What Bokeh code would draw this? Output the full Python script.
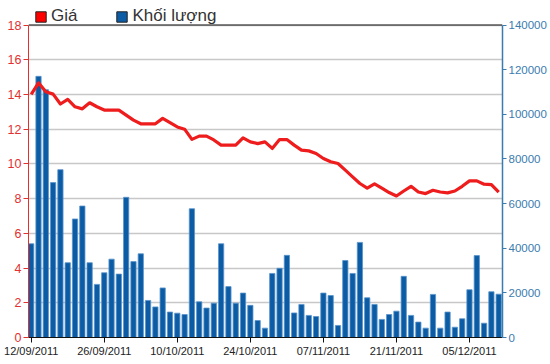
from bokeh.plotting import figure
from bokeh.models import (Range1d, LinearAxis, FixedTicker, Legend, LegendItem,
                          ColumnDataSource, BasicTickFormatter, Span)
from bokeh.embed import file_html
from bokeh.resources import INLINE

# ---- data ----
dates = [
    "12/09/2011", "13/09/2011", "14/09/2011", "15/09/2011", "16/09/2011",
    "19/09/2011", "20/09/2011", "21/09/2011", "22/09/2011", "23/09/2011",
    "26/09/2011", "27/09/2011", "28/09/2011", "29/09/2011", "30/09/2011",
    "03/10/2011", "04/10/2011", "05/10/2011", "06/10/2011", "07/10/2011",
    "10/10/2011", "11/10/2011", "12/10/2011", "13/10/2011", "14/10/2011",
    "17/10/2011", "18/10/2011", "19/10/2011", "20/10/2011", "21/10/2011",
    "24/10/2011", "25/10/2011", "26/10/2011", "27/10/2011", "28/10/2011",
    "31/10/2011", "01/11/2011", "02/11/2011", "03/11/2011", "04/11/2011",
    "07/11/2011", "08/11/2011", "09/11/2011", "10/11/2011", "11/11/2011",
    "14/11/2011", "15/11/2011", "16/11/2011", "17/11/2011", "18/11/2011",
    "21/11/2011", "22/11/2011", "23/11/2011", "24/11/2011", "25/11/2011",
    "28/11/2011", "29/11/2011", "30/11/2011", "01/12/2011", "02/12/2011",
    "05/12/2011", "06/12/2011", "07/12/2011", "08/12/2011", "09/12/2011",
]
price = [
    14.0, 14.67, 14.15, 14.02, 13.45, 13.71, 13.29, 13.17, 13.52, 13.29,
    13.1, 13.1, 13.1, 12.81, 12.52, 12.31, 12.31, 12.31, 12.62, 12.37,
    12.13, 12.0, 11.41, 11.6, 11.6, 11.38, 11.08, 11.08, 11.08, 11.5,
    11.27, 11.17, 11.27, 10.89, 11.4, 11.4, 11.08, 10.79, 10.75, 10.6,
    10.31, 10.12, 10.02, 9.64, 9.25, 8.87, 8.6, 8.85, 8.6, 8.35,
    8.15, 8.44, 8.71, 8.38, 8.29, 8.48, 8.38, 8.33, 8.44, 8.71,
    9.02, 9.02, 8.83, 8.81, 8.38,
]
volume = [
    42000, 117000, 111000, 69400, 75200, 33500, 53100, 58900, 33500, 23800,
    29000, 35100, 28400, 62800, 34000, 37500, 16600, 13700, 22200, 11400,
    10900, 10300, 57700, 16000, 13200, 15400, 42000, 22800, 15400, 19900,
    14400, 7600, 4200, 28700, 31000, 36800, 11000, 14800, 9900, 9400,
    19900, 18800, 5400, 34500, 28700, 42600, 17800, 14800, 8100, 10300,
    11800, 27400, 9900, 6900, 4200, 19300, 4200, 11400, 4600, 8400,
    21400, 36700, 6400, 20500, 19400,
]
price_ticks = [0, 2, 4, 6, 8, 10, 12, 14, 16, 18]
volume_ticks = [0, 20000, 40000, 60000, 80000, 100000, 120000, 140000]
date_tick_idx = [0, 10, 20, 30, 40, 50, 60]
series_names = ["Giá", "Khối lượng"]

RED = "#ee1c1c"
AXRED = "#e3302f"
BLUE = "#0b5ca5"
AXBLUE = "#3a7cb0"
FONT = "Liberation Sans"
NAN = float("nan")

PMAX = price_ticks[-1]
VMAX = volume_ticks[-1]
# frame runs to the top of the canvas; the axes stop at PMAX / VMAX
FRAME_H = 337.0
AXIS_H = 312.5
ext = FRAME_H / AXIS_H

src = ColumnDataSource(dict(x=list(range(len(dates))), price=price, vol=volume, date=dates))

p = figure(width=550, height=364, output_backend="svg", toolbar_location=None,
           x_range=Range1d(-0.37, 64.52), y_range=Range1d(0, PMAX * ext),
           min_border_left=28, min_border_right=48, min_border_top=0,
           min_border_bottom=27, background_fill_color="white",
           border_fill_color="white")
p.extra_y_ranges = {"vol": Range1d(0, VMAX * ext)}

# bars
bars = p.vbar(x="x", top="vol", width=0.72, y_range_name="vol", source=src,
              fill_color=BLUE, line_color="#5a94cc", line_width=0.8)
# price line
ln = p.line(x="x", y="price", source=src, line_color=RED, line_width=3.2,
            line_join="round")

# top border line of the chart area
p.add_layout(Span(location=PMAX, dimension="width", line_color="#111111", line_width=1))

# legend swatches (no visible data; only used for the legend squares)
d1 = p.vbar(x=[NAN], top=[NAN], width=0.5, fill_color="#ff0000",
            line_color="#222222", line_width=1)
d2 = p.vbar(x=[NAN], top=[NAN], width=0.5, fill_color=BLUE,
            line_color="#222222", line_width=1)
legend = Legend(items=[LegendItem(label=series_names[0], renderers=[d1]),
                       LegendItem(label=series_names[1], renderers=[d2])],
                orientation="horizontal", location="top_left",
                glyph_width=13, glyph_height=13, label_standoff=4, spacing=38,
                padding=0, margin=6, background_fill_alpha=0,
                border_line_alpha=0, label_text_font=FONT,
                label_text_font_size="17px", label_text_color="#333333")
p.add_layout(legend, "center")

# outline / grid
p.outline_line_color = None
p.xgrid.visible = False
p.ygrid.ticker = FixedTicker(ticks=price_ticks)
p.ygrid.grid_line_color = "#c8c8c8"
p.ygrid.grid_line_width = 1.6

# left axis
ya = p.yaxis[0]
ya.bounds = (0, PMAX)
ya.ticker = FixedTicker(ticks=price_ticks)
ya.axis_line_color = AXRED
ya.major_tick_line_color = AXRED
ya.major_label_text_color = AXRED
ya.major_label_text_font = FONT
ya.major_label_text_font_size = "12.5px"
ya.major_tick_out = 5
ya.major_tick_in = 0
ya.minor_tick_line_color = None
ya.major_label_standoff = 2

# right axis
ra = LinearAxis(y_range_name="vol", ticker=FixedTicker(ticks=volume_ticks),
                formatter=BasicTickFormatter(use_scientific=False),
                bounds=(0, VMAX))
ra.axis_line_color = AXBLUE
ra.axis_line_width = 1.5
ra.major_tick_line_color = AXBLUE
ra.major_label_text_color = AXBLUE
ra.major_label_text_font = FONT
ra.major_label_text_font_size = "11.5px"
ra.major_tick_out = 4
ra.major_tick_in = 0
ra.minor_tick_line_color = None
ra.major_label_standoff = 2
p.add_layout(ra, "right")

# bottom axis
xa = p.xaxis[0]
xa.ticker = FixedTicker(ticks=date_tick_idx)
xa.major_label_overrides = {i: dates[i] for i in date_tick_idx}
xa.axis_line_color = "#111111"
xa.major_tick_line_color = "#111111"
xa.major_tick_out = 5
xa.major_tick_in = 0
xa.minor_tick_line_color = None
xa.major_label_text_font = FONT
xa.major_label_text_font_size = "11px"
xa.major_label_text_color = "#222222"
xa.major_label_standoff = 2

open("out.html", "w").write(file_html(p, INLINE))
